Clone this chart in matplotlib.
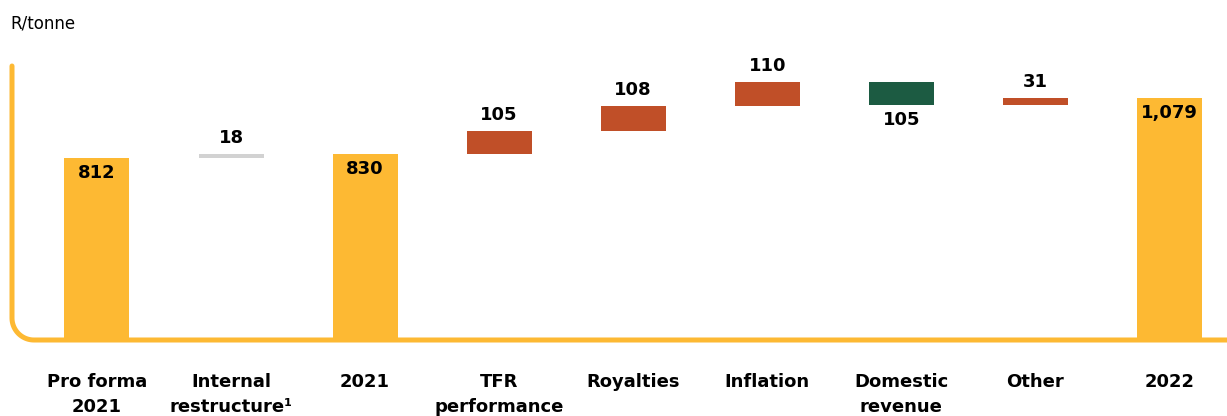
import numpy as np
import matplotlib
matplotlib.use("Agg")
import matplotlib.pyplot as plt
from matplotlib.lines import Line2D

# data (R/tonne)
categories = ["Pro forma\n2021", "Internal\nrestructure\u00b9", "2021", "TFR\nperformance",
              "Royalties", "Inflation", "Domestic\nrevenue", "Other", "2022"]
values = [812, 18, 830, 105, 108, 110, -105, 31, 1079]
kinds = ["total", "grey", "total", "up", "up", "up", "down", "up", "total"]
value_labels = ["812", "18", "830", "105", "108", "110", "105", "31", "1,079"]

colors = {"total": "#FDB933", "grey": "#D2D2D2", "up": "#C04F28", "down": "#1C5B42"}

W, H, DPI = 1227, 416, 100
fig = plt.figure(figsize=(W / DPI, H / DPI), dpi=DPI)
ax = fig.add_axes([12 / W, 76 / H, (W - 12) / W, 275 / H])

bottoms, heights = [], []
running = 0
for v, k in zip(values, kinds):
    if k == "total":
        bottoms.append(0)
        heights.append(v)
        running = v
    else:
        lo = min(running, running + v)
        bottoms.append(lo)
        heights.append(abs(v))
        running += v

x = np.arange(len(categories))
ax.bar(x, heights, bottom=bottoms, width=0.485,
       color=[colors[k] for k in kinds], zorder=2)

for i, k in enumerate(kinds):
    top = bottoms[i] + heights[i]
    if k == "total":
        ax.annotate(value_labels[i], (x[i], top), xytext=(0, -4), textcoords="offset points",
                    ha="center", va="top", fontsize=13, fontweight="bold", zorder=3)
    elif k == "down":
        ax.annotate(value_labels[i], (x[i], bottoms[i]), xytext=(0, -4), textcoords="offset points",
                    ha="center", va="top", fontsize=13, fontweight="bold", zorder=3)
    else:
        ax.annotate(value_labels[i], (x[i], top), xytext=(0, 5), textcoords="offset points",
                    ha="center", va="bottom", fontsize=13, fontweight="bold", zorder=3)

ax.set_xlim(-0.634, 8.43)
ax.set_ylim(0, 1228)
ax.set_xticks(x)
ax.set_xticklabels(categories, fontsize=13, fontweight="bold", linespacing=1.5)
ax.tick_params(axis="x", length=0, pad=24)
ax.set_yticks([])
for s in ax.spines.values():
    s.set_visible(False)

# rounded L-shaped axis line (in inches)
r = 0.22
x0, y0 = 12 / DPI, (H - 340) / DPI
ytop = (H - 66) / DPI
t = np.linspace(np.pi, 1.5 * np.pi, 30)
px = np.concatenate([[x0], x0 + r + r * np.cos(t), [W / DPI + 0.1]])
py = np.concatenate([[ytop], y0 + r + r * np.sin(t), [y0]])
fig.add_artist(Line2D(px, py, transform=fig.dpi_scale_trans, color="#FDB933",
                      linewidth=3.6, solid_capstyle="round", zorder=1))

fig.text(10 / W, 1 - 23 / H, "R/tonne", fontsize=12, va="center", ha="left")

fig.savefig("out.png", dpi=DPI)
